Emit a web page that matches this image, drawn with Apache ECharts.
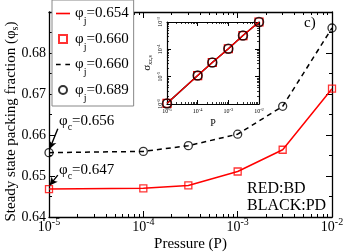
<!DOCTYPE html>
<html><head><meta charset="utf-8">
<script src="https://cdn.jsdelivr.net/npm/echarts@6/dist/echarts.min.js"></script>
<style>html,body{margin:0;padding:0;background:#fff}#c{width:344px;height:252px}</style>
</head><body><div id="c"></div>
<script>
// ---- data ----
const pressures = [1e-5, 1e-4, 3e-4, 1e-3, 3e-3, 1e-2];
const bdPacking = [0.6468, 0.6470, 0.6477, 0.6511, 0.6564, 0.6713];
const pdPacking = [0.6557, 0.6560, 0.6574, 0.6602, 0.6670, 0.6861];
const insetPressures = [1e-5, 1e-4, 3e-4, 1e-3, 3e-3, 1e-2];
const bdStress = [1.05e-6, 1.1e-5, 3.3e-5, 1.05e-4, 3.2e-4, 1.0e-3];
const pdStress = [1.05e-6, 1.1e-5, 3.3e-5, 1.05e-4, 3.2e-4, 1.0e-3];
const yTickLabels = ['0.64', '0.65', '0.66', '0.67', '0.68'];
const legendNames = ['BD line', 'BD points', 'PD line', 'PD points'];
const legendValues = ['0.654', '0.660', '0.660', '0.689'];
const phiCLabels = ['0.656', '0.647'];
const arrowPD = [[1.24e-5, 0.6615], [1.015e-5, 0.6566]];
const arrowBD = [[1.24e-5, 0.6502], [1.015e-5, 0.6477]];

const F = 'Liberation Serif';
const zip = (xs, ys) => xs.map((x, i) => [x, ys[i]]);
const expLabel = v => '{b|10}{sup|' + Math.round(Math.log10(v)) + '}';

const mainTick = {show: true, inside: true, length: 6, lineStyle: {color: '#000', width: 1}};
const mainMinor = n => ({show: true, splitNumber: n, length: 3, lineStyle: {color: '#000', width: 1}});
const axLine = {show: true, onZero: false, lineStyle: {color: '#000', width: 1.3}};

const xMain = (pos, labels) => ({
  type: 'log', logBase: 10, min: 1e-5, max: 1e-2, interval: 1, gridIndex: 0, position: pos,
  axisLine: axLine, axisTick: mainTick, minorTick: mainMinor(9), splitLine: {show: false},
  axisLabel: labels ? {show: true, margin: 0, formatter: expLabel,
    rich: {b: {fontFamily: F, fontSize: 14, color: '#000'},
           sup: {fontFamily: F, fontSize: 10, color: '#000', padding: [0, 0, 10, 0]}}} : {show: false},
  name: labels ? 'Pressure (P)' : '', nameLocation: 'middle', nameGap: 20, nameMoveOverlap: false,
  nameTextStyle: {fontFamily: F, fontSize: 15, color: '#000'}
});
const yMain = (pos, labels) => ({
  type: 'value', min: 0.64, max: 0.69, interval: 0.01, gridIndex: 0, position: pos,
  axisLine: axLine, axisTick: mainTick, minorTick: mainMinor(2), splitLine: {show: false},
  axisLabel: labels ? {show: true, margin: 3, fontFamily: F, fontSize: 14, color: '#000',
    formatter: v => { const i = Math.round((v - 0.64) / 0.01); return yTickLabels[i] || ''; }} : {show: false},
  name: labels ? '{t|Steady state packing fraction (φ}{sub|s}{t|)}' : '', nameLocation: 'middle',
  nameGap: 29, nameMoveOverlap: false,
  nameTextStyle: {fontFamily: F, fontSize: 15, color: '#000', padding: [0, 14, 0, 0],
    rich: {t: {fontFamily: F, fontSize: 15, color: '#000'},
    sub: {fontFamily: F, fontSize: 10, color: '#000', padding: [8, 0, 0, 0]}}}
});
const inTick = {show: true, inside: true, length: 4, lineStyle: {color: '#000', width: 1}};
const inMinor = {show: true, splitNumber: 9, length: 2, lineStyle: {color: '#000', width: 0.8}};
const inLine = {show: true, onZero: false, lineStyle: {color: '#000', width: 1.2}};
const inRich = {b: {fontFamily: F, fontSize: 6, color: '#000'},
                sup: {fontFamily: F, fontSize: 4.5, color: '#000', padding: [0, 0, 4, 0]}};
const xIn = (pos, labels) => ({
  type: 'log', logBase: 10, min: 1e-5, max: 1e-2, interval: 1, gridIndex: 1, position: pos,
  axisLine: inLine, axisTick: inTick, minorTick: inMinor, splitLine: {show: false},
  axisLabel: labels ? {show: true, margin: 3, formatter: expLabel, rich: inRich} : {show: false},
  name: labels ? 'P' : '', nameLocation: 'middle', nameGap: 14, nameMoveOverlap: false,
  nameTextStyle: {fontFamily: F, fontSize: 10, color: '#000'}
});
const yIn = (pos, labels) => ({
  type: 'log', logBase: 10, min: 1e-6, max: 1e-3, interval: 1, gridIndex: 1, position: pos,
  axisLine: inLine, axisTick: inTick, minorTick: inMinor, splitLine: {show: false},
  axisLabel: labels ? {show: true, margin: 2, rotate: 90, formatter: expLabel, rich: inRich} : {show: false},
  name: labels ? '{s|σ}{sub|xz,s}' : '', nameLocation: 'middle', nameGap: 14, nameMoveOverlap: false,
  nameTextStyle: {fontFamily: F, fontSize: 11, color: '#000', rich: {s: {fontFamily: F, fontSize: 11, color: '#000'},
    sub: {fontFamily: F, fontSize: 6, color: '#000', padding: [5, 0, 0, 0]}}}
});

const legendRich = {p: {fontFamily: F, fontSize: 15, color: '#000'},
  sub: {fontFamily: F, fontSize: 10, color: '#000', padding: [16, 0, 0, 0]}};
const squareIcon = 'path://M0,0H10V10H0Z';
const solidLineIcon = 'path://M0,0H12V1.4H0Z';
const dashedLineIcon = 'path://M0,0H4V1.4H0Z M8,0H12V1.4H8Z';

const chart = echarts.init(document.getElementById('c'), null, {renderer: 'canvas'});
chart.setOption({
  animation: false,
  backgroundColor: '#fff',
  grid: [
    {left: 49, top: 12, width: 283, height: 205, containLabel: false, outerBoundsMode: 'none'},
    {left: 167, top: 22, width: 92, height: 82, backgroundColor: '#fff', show: true, borderWidth: 0,
      containLabel: false, outerBoundsMode: 'none'}
  ],
  xAxis: [xMain('bottom', true), xMain('top', false), xIn('bottom', true), xIn('top', false)],
  yAxis: [yMain('left', true), yMain('right', false), yIn('left', true), yIn('right', false)],
  legend: {
    data: [
      {name: legendNames[0], icon: solidLineIcon, itemStyle: {color: '#ff0000', borderWidth: 0}},
      {name: legendNames[1], icon: squareIcon},
      {name: legendNames[2], icon: dashedLineIcon, itemStyle: {color: '#000', borderWidth: 0}},
      {name: legendNames[3]}
    ],
    orient: 'vertical', left: 52, top: 0, symbolKeepAspect: true,
    backgroundColor: '#fff', borderColor: '#888', borderWidth: 1,
    padding: [6, 5, 3, 4], itemGap: 5, itemWidth: 14, itemHeight: 8,
    formatter: name => '{p|φ}{sub|j}{p|=' + legendValues[legendNames.indexOf(name)] + '}',
    textStyle: {fontFamily: F, fontSize: 15, color: '#000', rich: legendRich}
  },
  series: [
    {name: 'BD line', type: 'line', xAxisIndex: 0, yAxisIndex: 0, data: zip(pressures, bdPacking),
      symbol: 'none', lineStyle: {color: '#ff0000', width: 1.5}, itemStyle: {color: '#ff0000'}, z: 3},
    {name: 'BD points', type: 'scatter', xAxisIndex: 0, yAxisIndex: 0, data: zip(pressures, bdPacking),
      symbol: 'rect', symbolSize: 7,
      itemStyle: {color: 'rgba(255,255,255,0)', borderColor: '#ff0000', borderWidth: 1.3}, z: 4},
    {name: 'PD line', type: 'line', xAxisIndex: 0, yAxisIndex: 0, data: zip(pressures, pdPacking),
      symbol: 'none', lineStyle: {color: '#000', width: 1.5, type: [5, 4]}, itemStyle: {color: '#000'}, z: 3,
      markLine: {silent: true, symbol: ['none', 'arrow'], symbolSize: [6, 8], label: {show: false},
        lineStyle: {color: '#000', width: 1.4, type: 'solid'},
        data: [[{coord: arrowPD[0]}, {coord: arrowPD[1]}], [{coord: arrowBD[0]}, {coord: arrowBD[1]}]]}},
    {name: 'PD points', type: 'scatter', xAxisIndex: 0, yAxisIndex: 0, data: zip(pressures, pdPacking),
      symbol: 'circle', symbolSize: 8,
      itemStyle: {color: 'rgba(255,255,255,0)', borderColor: '#000', borderWidth: 1.3}, z: 4},
    // inset
    {name: 'inset PD line', type: 'line', xAxisIndex: 2, yAxisIndex: 2, data: zip(insetPressures, pdStress),
      symbol: 'none', lineStyle: {color: '#000', width: 1.5}, z: 5},
    {name: 'inset BD', type: 'line', xAxisIndex: 2, yAxisIndex: 2, data: zip(insetPressures, bdStress),
      symbol: 'rect', symbolSize: 8, lineStyle: {color: '#ff0000', width: 1.2},
      itemStyle: {color: 'rgba(255,255,255,0)', borderColor: '#ff0000', borderWidth: 1.2}, z: 6},
    {name: 'inset PD points', type: 'scatter', xAxisIndex: 2, yAxisIndex: 2, data: zip(insetPressures, pdStress),
      symbol: 'circle', symbolSize: 9,
      itemStyle: {color: 'rgba(255,255,255,0)', borderColor: '#000', borderWidth: 1.5}, z: 7}
  ],
  graphic: [
    {type: 'text', left: 304, top: 16, style: {text: 'c)', fontFamily: F, fontSize: 15, fill: '#000'}},
    {type: 'text', left: 247, top: 181, style: {text: 'RED:BD', fontFamily: F, fontSize: 16, fill: '#000'}},
    {type: 'text', left: 247, top: 198, style: {text: 'BLACK:PD', fontFamily: F, fontSize: 16, fill: '#000'}},
    {type: 'text', left: 59, top: 114, style: {text: '{p|φ}{sub|c}{p|=' + phiCLabels[0] + '}', fontFamily: F, fontSize: 15,
      rich: {p: {fontFamily: F, fontSize: 15, fill: '#000'}, sub: {fontFamily: F, fontSize: 10, fill: '#000', padding: [12, 0, 0, 0]}}}},
    {type: 'text', left: 59, top: 163, style: {text: '{p|φ}{sub|c}{p|=' + phiCLabels[1] + '}', fontFamily: F, fontSize: 15,
      rich: {p: {fontFamily: F, fontSize: 15, fill: '#000'}, sub: {fontFamily: F, fontSize: 10, fill: '#000', padding: [12, 0, 0, 0]}}}}
  ]
});
</script></body></html>
